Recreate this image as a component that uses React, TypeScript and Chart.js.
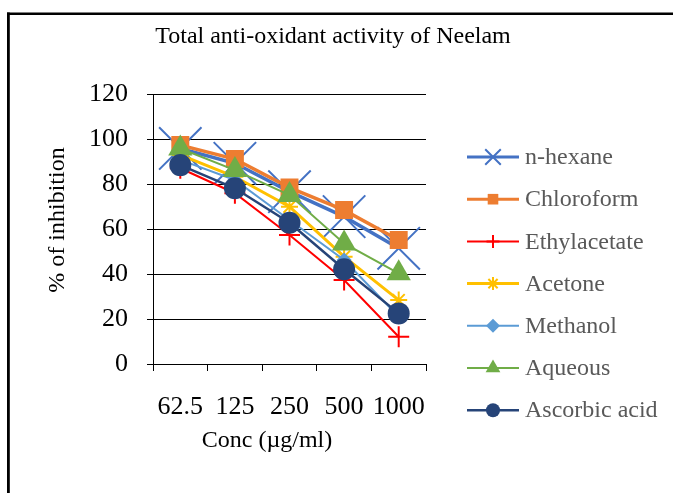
import React, { useEffect, useRef } from "react";
import { Chart, registerables } from "chart.js";

Chart.register(...registerables);

const chartTitle = "Total anti-oxidant activity of Neelam";
const xAxisTitle = "Conc (µg/ml)";
const yAxisTitle = "% of inhibition";
const categories = ["62.5", "125", "250", "500", "1000"];
const yTicks = [0, 20, 40, 60, 80, 100, 120];

const seriesNames = ["n-hexane", "Chloroform", "Ethylacetate", "Acetone", "Methanol", "Aqueous", "Ascorbic acid"];
const nHexane = [95.8, 89.2, 76.6, 65.5, 51.4];
const chloroform = [97.3, 91.1, 78.4, 68.4, 55.1];
const ethylacetate = [87.0, 75.9, 57.3, 37.3, 12.1];
const acetone = [92.9, 83.2, 69.9, 47.7, 28.4];
const methanol = [90.7, 81.8, 64.0, 46.2, 21.0];
const aqueous = [95.8, 86.2, 75.1, 53.6, 40.3];
const ascorbicAcid = [88.4, 78.1, 62.8, 42.1, 22.5];
const seriesValues = [nHexane, chloroform, ethylacetate, acetone, methanol, aqueous, ascorbicAcid];

const colors = ["#4472C4", "#ED7D31", "#FF0000", "#FFC000", "#5B9BD5", "#70AD47", "#264478"];
const pointStyles = ["crossRot", "rect", "cross", "star", "rectRot", "triangle", "circle"];
const pointRadii = [30, 12.7, 10.5, 8.5, 7.5, 14, 11];
const legendRadii = [11, 7.5, 6.5, 6.5, 7, 8.5, 7];
const lineWidths = [3.5, 3.5, 2, 3, 2, 2, 2.5];
const filled = [false, true, false, false, true, true, true];

const SERIF = "'Liberation Serif', 'Times New Roman', serif";

function drawMarker(ctx: CanvasRenderingContext2D, style: string, x: number, y: number, r: number, color: string, fill: boolean, lw: number) {
  ctx.save();
  ctx.strokeStyle = color;
  ctx.fillStyle = color;
  ctx.lineWidth = lw;
  ctx.beginPath();
  const q = Math.SQRT1_2 * r;
  switch (style) {
    case "crossRot":
      ctx.moveTo(x - q, y - q); ctx.lineTo(x + q, y + q);
      ctx.moveTo(x - q, y + q); ctx.lineTo(x + q, y - q);
      ctx.stroke();
      break;
    case "cross":
      ctx.moveTo(x - r, y); ctx.lineTo(x + r, y);
      ctx.moveTo(x, y - r); ctx.lineTo(x, y + r);
      ctx.stroke();
      break;
    case "star":
      ctx.moveTo(x - r, y); ctx.lineTo(x + r, y);
      ctx.moveTo(x, y - r); ctx.lineTo(x, y + r);
      ctx.moveTo(x - q, y - q); ctx.lineTo(x + q, y + q);
      ctx.moveTo(x - q, y + q); ctx.lineTo(x + q, y - q);
      ctx.stroke();
      break;
    case "rect":
      ctx.rect(x - q, y - q, 2 * q, 2 * q);
      ctx.fill();
      break;
    case "rectRot":
      ctx.moveTo(x - r, y); ctx.lineTo(x, y - r); ctx.lineTo(x + r, y); ctx.lineTo(x, y + r); ctx.closePath();
      ctx.fill();
      break;
    case "triangle": {
      const h = r * 1.5;
      const w = r * Math.sqrt(3) / 2;
      ctx.moveTo(x, y - r); ctx.lineTo(x + w, y + h - r); ctx.lineTo(x - w, y + h - r); ctx.closePath();
      ctx.fill();
      break;
    }
    default:
      ctx.arc(x, y, r, 0, Math.PI * 2);
      ctx.fill();
  }
  ctx.restore();
}

const decorPlugin = {
  id: "decor",
  beforeDraw(chart: any) {
    const ctx = chart.ctx as CanvasRenderingContext2D;
    ctx.save();
    ctx.fillStyle = "#ffffff";
    ctx.fillRect(0, 0, chart.width, chart.height);
    ctx.fillStyle = "#000000";
    ctx.fillRect(7, 12.5, chart.width, 2.5);
    ctx.fillRect(7, 12.5, 2.8, chart.height);
    ctx.restore();
  },
  afterDraw(chart: any) {
    const ctx = chart.ctx as CanvasRenderingContext2D;
    ctx.save();
    ctx.fillStyle = "#000000";
    ctx.textAlign = "center";
    ctx.textBaseline = "middle";
    ctx.font = `24px ${SERIF}`;
    ctx.fillText(chartTitle, 333, 37);
    ctx.font = `24px ${SERIF}`;
    ctx.fillText(xAxisTitle, 267, 441);
    ctx.save();
    ctx.translate(58, 220);
    ctx.rotate(-Math.PI / 2);
    ctx.font = `24px ${SERIF}`;
    ctx.fillText(yAxisTitle, 0, 0);
    ctx.restore();

    // legend
    for (let i = 0; i < seriesNames.length; i++) {
      const y = 157 + i * 42.2;
      ctx.save();
      ctx.strokeStyle = colors[i];
      ctx.lineWidth = Math.min(lineWidths[i], 3);
      ctx.beginPath();
      ctx.moveTo(467, y);
      ctx.lineTo(519, y);
      ctx.stroke();
      ctx.restore();
      drawMarker(ctx, pointStyles[i], 493, y, legendRadii[i], colors[i], filled[i], 2);
      ctx.fillStyle = "#595959";
      ctx.textAlign = "left";
      ctx.textBaseline = "middle";
      ctx.font = `24px ${SERIF}`;
      ctx.fillText(seriesNames[i], 525, y + 1);
    }
    ctx.restore();
  },
};

export default function App() {
  const canvasRef = useRef<HTMLCanvasElement | null>(null);

  useEffect(() => {
    const canvas = canvasRef.current;
    if (!canvas) return;
    const datasets = seriesNames.map((name, i) => ({
      label: name,
      data: seriesValues[i],
      borderColor: colors[i],
      backgroundColor: colors[i],
      borderWidth: lineWidths[i],
      pointStyle: pointStyles[i] as any,
      pointRadius: pointRadii[i],
      pointBorderWidth: filled[i] ? 0 : 2,
      pointBorderColor: colors[i],
      pointBackgroundColor: colors[i],
      tension: 0,
      fill: false,
      order: seriesNames.length - 1 - i,
    }));
    const chart = new Chart(canvas, {
      type: "line",
      data: { labels: categories, datasets },
      plugins: [decorPlugin],
      options: {
        responsive: false,
        animation: false,
        events: [],
        layout: { padding: { left: 0, top: 94, right: 247, bottom: 0 } },
        plugins: { legend: { display: false }, title: { display: false }, tooltip: { enabled: false } },
        scales: {
          x: {
            offset: true,
            grid: { display: true, drawOnChartArea: false, drawTicks: true, tickLength: 7, color: "#000", lineWidth: 1, offset: true },
            border: { display: true, color: "#000", width: 1 },
            ticks: { color: "#000", font: { family: SERIF, size: 26 }, padding: 21, maxRotation: 0, autoSkip: false },
            afterFit: (s: any) => { s.height = 129; },
          },
          y: {
            min: 0,
            max: 120,
            afterBuildTicks: (s: any) => { s.ticks = yTicks.map((v) => ({ value: v })); },
            grid: { display: true, drawOnChartArea: true, drawTicks: true, tickLength: 6, color: "#000", lineWidth: 1 },
            border: { display: true, color: "#000", width: 1 },
            ticks: { color: "#000", font: { family: SERIF, size: 26 }, padding: 19 },
            afterFit: (s: any) => { s.width = 153; },
          },
        },
      },
    });
    return () => chart.destroy();
  }, []);

  return (
    <div style={{ position: "fixed", left: 0, top: 0, width: 673, height: 493, background: "#fff" }}>
      <canvas ref={canvasRef} width={673} height={493} style={{ display: "block" }} />
    </div>
  );
}
